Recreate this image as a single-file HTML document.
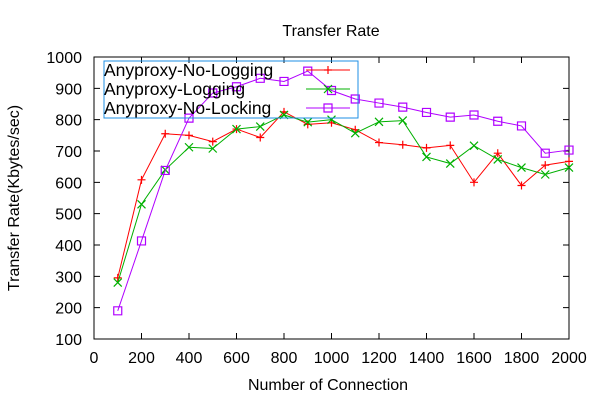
<!DOCTYPE html>
<html><head><meta charset="utf-8"><style>
body{margin:0;background:#fff;}
svg text{font-family:"Liberation Sans",sans-serif;font-size:16px;fill:#000;}
svg text.leg{font-size:17.5px;}
</style></head><body>
<svg id="chart" width="600" height="400">
<text x="331" y="36" text-anchor="middle">Transfer Rate</text>
<text x="328" y="390" text-anchor="middle">Number of Connection</text>
<text transform="translate(19,198) rotate(-90)" text-anchor="middle">Transfer Rate(Kbytes/sec)</text>
<rect x="94" y="57" width="475" height="282" fill="none" stroke="#000"/>
<g id="ticks"></g>
<g id="series"></g>
<g id="legend">
<rect x="104" y="61" width="254" height="57" fill="none" stroke="#1e8fe6"/>
</g>
</svg>
<script>
const xValues=[100,200,300,400,500,600,700,800,900,1000,1100,1200,1300,1400,1500,1600,1700,1800,1900,2000];
const noLogging=[295,608,755,750,730,770,743,825,785,790,768,727,720,710,718,600,693,590,655,667];
const logging=[280,530,640,712,708,770,778,815,792,800,757,793,797,681,660,717,673,647,625,647];
const noLocking=[190,413,638,805,885,905,932,922,955,893,866,853,840,823,808,815,795,780,693,703];
const xTicks=[0,200,400,600,800,1000,1200,1400,1600,1800,2000];
const yTicks=[100,200,300,400,500,600,700,800,900,1000];
const seriesNames=["Anyproxy-No-Logging","Anyproxy-Logging","Anyproxy-No-Locking"];
const NS="http://www.w3.org/2000/svg";
const X=v=>94+v/2000*475, Y=v=>339-(v-100)/900*282;
function mk(t,a,p){const e=document.createElementNS(NS,t);for(const k in a)e.setAttribute(k,a[k]);p.appendChild(e);return e;}
const tg=document.getElementById('ticks');
xTicks.forEach(v=>{const x=X(v);
 const l=mk('path',{d:`M${x},339v-6M${x},57v6`,stroke:'#000'},tg);
 
 
 const t=mk('text',{x:x,y:363,'text-anchor':'middle'},tg);t.textContent=v;
 
 });
yTicks.forEach(v=>{const y=Y(v);
 const l=mk('path',{d:`M94,${y}h6M569,${y}h-6`,stroke:'#000'},tg);
 
 
 const t=mk('text',{x:82,y:y+6,'text-anchor':'end'},tg);t.textContent=v;
 
 });
function marker(type,x,y,c,g){
 let d;
 if(type==0)d=`M${x-4},${y}h8M${x},${y-4}v8`;
 else if(type==1)d=`M${x-4},${y-4}l8,8M${x-4},${y+4}l8,-8`;
 else d=`M${x-4},${y-4}h8v8h-8z`;
 const m=mk('path',{d:d,stroke:c,fill:'none','stroke-width':1.2},g);
 
 }
const sg=document.getElementById('series');
const colors=['#ff0000','#00b000','#b000ff'];
[noLogging,logging,noLocking].forEach((vals,i)=>{
 const g=mk('g',{},sg);
 
 
 const pts=vals.map((v,j)=>X(xValues[j])+','+Y(v)).join(' ');
 const pl=mk('polyline',{points:pts,fill:'none',stroke:colors[i]},g);
 
 
 vals.forEach((v,j)=>marker(i,X(xValues[j]),Y(v),colors[i],g));
 const lg=document.getElementById('legend');
 const ly=70+i*19;
 const t=mk('text',{x:104,y:ly+6,'class':'leg'},lg);t.textContent=seriesNames[i];
 
 
 const ln=mk('path',{d:`M306,${ly}h44`,stroke:colors[i]},lg);
 
 
 marker(i,328,ly,colors[i],lg);
});
</script>
</body></html>
